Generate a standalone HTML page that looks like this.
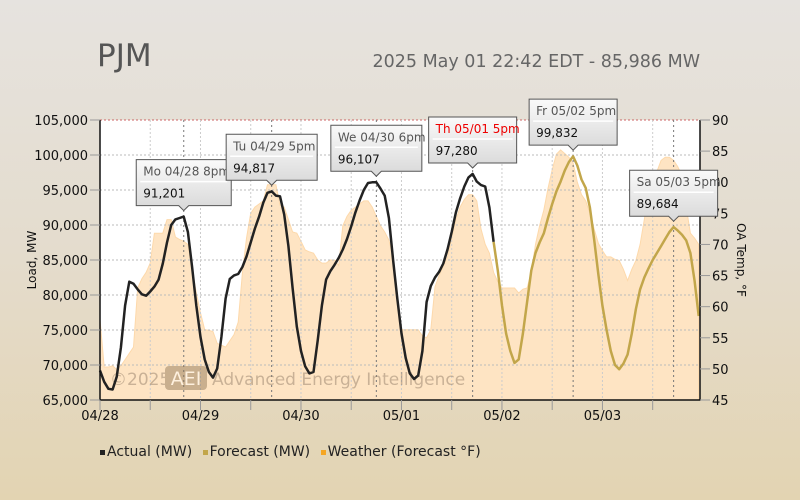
<!DOCTYPE html>
<html><head><meta charset="utf-8">
<style>
html,body{margin:0;padding:0;}
body{width:800px;height:500px;overflow:hidden;background:linear-gradient(#e6e3df 0%,#e4dccd 50%,#e3d4b2 100%);font-family:"DejaVu Sans","Liberation Sans",sans-serif;}
#root{position:relative;width:800px;height:500px;}
.title{position:absolute;left:97px;top:38px;font-size:31px;color:#555;}
.sub{position:absolute;right:100px;top:52px;font-size:17.5px;color:#666;}
.legend{position:absolute;left:100px;top:444px;font-size:14px;color:#222;white-space:nowrap;}
.legend span{margin-right:6px;}
.sw{display:inline-block;width:5px;height:5px;margin-right:2px;vertical-align:middle;}
</style></head>
<body>
<div id="root">
<div class="title">PJM</div>
<div class="sub">2025 May 01 22:42 EDT - 85,986 MW</div>
<svg id="chart" width="800" height="500" style="position:absolute;left:0;top:0"></svg>
<div class="legend">
<span><i class="sw" style="background:#222"></i>Actual (MW)</span>
<span><i class="sw" style="background:#c2a64a"></i>Forecast (MW)</span>
<span><i class="sw" style="background:#f5a623"></i>Weather (Forecast °F)</span>
</div>
</div>
<script>
const dayLabels=["04/28","04/29","04/30","05/01","05/02","05/03"];
const loadTicks=[65000,70000,75000,80000,85000,90000,95000,100000,105000];
const tempTicks=[45,50,55,60,65,70,75,80,85,90];
const actualLoad=[69.2,67.6,66.6,66.5,68.3,72.5,78.5,81.9,81.6,80.8,80.1,79.9,80.5,81.2,82.2,84.5,87.5,90.0,90.8,91.0,91.2,89.0,84.0,78.5,74.0,70.8,69.0,68.2,69.5,74.0,79.5,82.3,82.8,83.0,84.0,85.5,87.5,89.5,91.2,93.2,94.6,94.8,94.2,94.1,91.5,87.0,81.0,75.5,72.0,69.8,68.8,69.0,73.5,78.5,82.2,83.4,84.3,85.3,86.5,88.0,89.8,91.8,93.5,95.0,96.0,96.1,96.1,95.2,94.2,91.0,85.0,79.5,74.5,71.0,68.8,68.0,68.5,72.0,79.0,81.3,82.5,83.3,84.5,86.5,89.0,91.8,93.8,95.5,96.8,97.3,96.2,95.7,95.5,92.5,87.6];
const forecastStart=94;
const forecastLoad=[87.6,83.5,78.5,74.5,72.0,70.3,70.8,74.5,79.0,83.5,86.0,87.5,88.8,91.0,93.0,94.8,96.2,97.8,99.0,99.8,98.5,96.5,95.3,92.5,88.0,83.0,78.5,75.0,72.0,70.0,69.4,70.2,71.5,74.5,78.0,80.8,82.5,83.8,85.0,86.0,87.0,88.0,89.0,89.7,89.2,88.6,87.8,86.0,82.0,77.0];
const temps=[57.9,50.3,50.3,50.5,49.9,50.5,51.5,52.5,53.5,63,64.5,65.5,67,71.8,71.8,71.8,74,74,71.2,70.8,70.5,70,66,62.2,59,56.3,56.2,56,54.1,53.8,53.5,54.5,55.5,57.5,65.4,71,75,76,76.5,77,79.6,79.6,79.6,76.3,76,74,72,71.8,70.5,69.1,68.8,68.6,67.5,67,67,67.5,67.5,66.6,73,74.5,75.5,76,76.5,77,77,76,74.5,73,72,70.7,68,62,56.3,56.3,56.3,56.3,56.3,55.3,55,56.3,63.2,65,66.5,68,71,74,76,77.2,78,78,77,72.5,70,68.6,65.5,64,63,63,63,63,62.2,62.8,63,65.5,70,73,75.5,79,82,84.5,85.2,84.6,84,83.1,80,78,77,75,72.5,70.2,69,68,68,67.6,67.4,66,64.2,66,67.4,70,74,78,80.5,81.7,83.5,84,84,83.5,82.5,81,76,71.8,71,70];
const peakLabels=["Mo 04/28 8pm","Tu 04/29 5pm","We 04/30 6pm","Th 05/01 5pm","Fr 05/02 5pm","Sa 05/03 5pm"];
const peakHours=[20,41,66,89,113,137];
const peakValues=[91201,94817,96107,97280,99832,89684];

const L=100,R=700,T=120,B=400,HOURS=143.3;
const X=h=>L+h*(R-L)/HOURS;
const Y=v=>B-(v-65000)*(B-T)/40000;
const YT=t=>B-(t-45)*(B-T)/45;
const NS="http://www.w3.org/2000/svg";
const svg=document.getElementById('chart');
function mk(tag,attrs,parent){const e=document.createElementNS(NS,tag);for(const k in attrs)e.setAttribute(k,attrs[k]);(parent||svg).appendChild(e);return e;}

const plot=mk('rect',{x:L,y:T,width:R-L,height:B-T,fill:'#fff'});



let d='M'+X(0)+','+B;
temps.forEach((t,i)=>{d+=' L'+X(i).toFixed(1)+','+YT(t).toFixed(1);});
d+=' L'+X(temps.length-1)+','+B+' Z';
const area=mk('path',{d:d,fill:'#fee4c3',stroke:'#fdd9ab','stroke-width':1});



loadTicks.forEach(v=>{
  if(v===65000)return;
  const g=mk('line',{x1:L,x2:R,y1:Y(v),y2:Y(v),stroke:v===105000?'#c66':'#bbb','stroke-dasharray':'2,2','stroke-width':1});
  
  
});
for(let h=12;h<HOURS;h+=24){
  const g=mk('line',{x1:X(h),x2:X(h),y1:T,y2:B,stroke:'#ccc','stroke-dasharray':'2,2'});
  
  
}
for(let i=1;i<dayLabels.length;i++){
  const g=mk('line',{x1:X(i*24),x2:X(i*24),y1:T,y2:B,stroke:'#ccc','stroke-dasharray':'2,2'});
  
  
}
peakHours.forEach(h=>{
  const g=mk('line',{x1:X(h),x2:X(h),y1:T,y2:B,stroke:'#777','stroke-dasharray':'2,3'});
  
  
});

const wm=mk('g',{opacity:0.45});


mk('text',{x:110,y:385,'font-size':17,fill:'#8a7560','font-family':'DejaVu Sans, sans-serif'},wm).textContent='©2025';
mk('rect',{x:165,y:366,width:42,height:24,rx:4,fill:'#8a7050'},wm);
mk('text',{x:186,y:385,'font-size':19,fill:'#fff','text-anchor':'middle','font-family':'DejaVu Sans, sans-serif'},wm).textContent='AEI';
mk('text',{x:212,y:385,'font-size':17,fill:'#8a7560','font-family':'DejaVu Sans, sans-serif'},wm).textContent='Advanced Energy Intelligence';

let pa='';actualLoad.forEach((v,i)=>{pa+=(i?' L':'M')+X(i).toFixed(1)+','+Y(v*1000).toFixed(1);});
let pf='';forecastLoad.forEach((v,i)=>{pf+=(i?' L':'M')+X(forecastStart+i).toFixed(1)+','+Y(v*1000).toFixed(1);});
const fl=mk('path',{d:pf,fill:'none',stroke:'#c2a64a','stroke-width':2.5,'stroke-linejoin':'round'});


const al=mk('path',{d:pa,fill:'none',stroke:'#222','stroke-width':2.5,'stroke-linejoin':'round'});



const ax=mk('path',{d:`M${L},${T} L${L},${B} L${R},${B} L${R},${T}`,fill:'none',stroke:'#111','stroke-width':1.5});


loadTicks.forEach(v=>{
  const tk=mk('line',{x1:L-10,x2:L,y1:Y(v),y2:Y(v),stroke:'#999'});
  
  
  const t=mk('text',{x:L-12,y:Y(v)+5,'text-anchor':'end','font-size':13,fill:'#111'});
  t.textContent=v.toLocaleString('en-US');
  
  
});
tempTicks.forEach(v=>{
  const tk=mk('line',{x1:R,x2:R+10,y1:YT(v),y2:YT(v),stroke:'#999'});
  
  
  const t=mk('text',{x:R+12,y:YT(v)+5,'font-size':13,fill:'#111'});
  t.textContent=v;
  
  
});
for(let h=0;h<HOURS;h+=12){
  const tk=mk('line',{x1:X(h),x2:X(h),y1:B,y2:B+10,stroke:'#999'});
  
  
}
dayLabels.forEach((lab,i)=>{
  const t=mk('text',{x:X(i*24),y:B+20,'text-anchor':'middle','font-size':13,fill:'#111'});
  t.textContent=lab;
  
  
});
const yl=mk('text',{transform:'translate(36,260) rotate(-90)','text-anchor':'middle','font-size':12,fill:'#111'});
yl.textContent='Load, MW';


const yl2=mk('text',{transform:'translate(737,260) rotate(90)','text-anchor':'middle','font-size':12,fill:'#111'});
yl2.textContent='OA Temp, °F';



const defs=mk('defs',{});
const gr=mk('linearGradient',{id:'tg',x1:0,y1:0,x2:0,y2:1},defs);
mk('stop',{offset:0,'stop-color':'#fafafa'},gr);mk('stop',{offset:1,'stop-color':'#d8d8d8'},gr);
const boxW=[95,91,91,88,88,88];
peakHours.forEach((h,i)=>{
  const px=X(h),py=Y(peakValues[i])-6;
  const w=boxW[i],hgt=46;
  let bx=px-w/2; if(bx+w>718)bx=718-w;
  const by=py-hgt-5;
  const g=mk('g',{});
  
  
  mk('path',{d:`M${bx},${by} h${w} v${hgt} H${px+5} l-5,5 l-5,-5 H${bx} Z`,fill:'url(#tg)',stroke:'#555','stroke-width':1},g);
  mk('line',{x1:bx+4,x2:bx+w-4,y1:by+22,y2:by+22,stroke:'#fff','stroke-width':1.5},g);
  const t1=mk('text',{x:bx+7,y:by+16,'font-size':12,fill:i===3?'#e00':'#555'},g);t1.textContent=peakLabels[i];
  const t2=mk('text',{x:bx+7,y:by+38,'font-size':12,fill:'#111'},g);t2.textContent=peakValues[i].toLocaleString('en-US');
});
</script>
</body></html>
